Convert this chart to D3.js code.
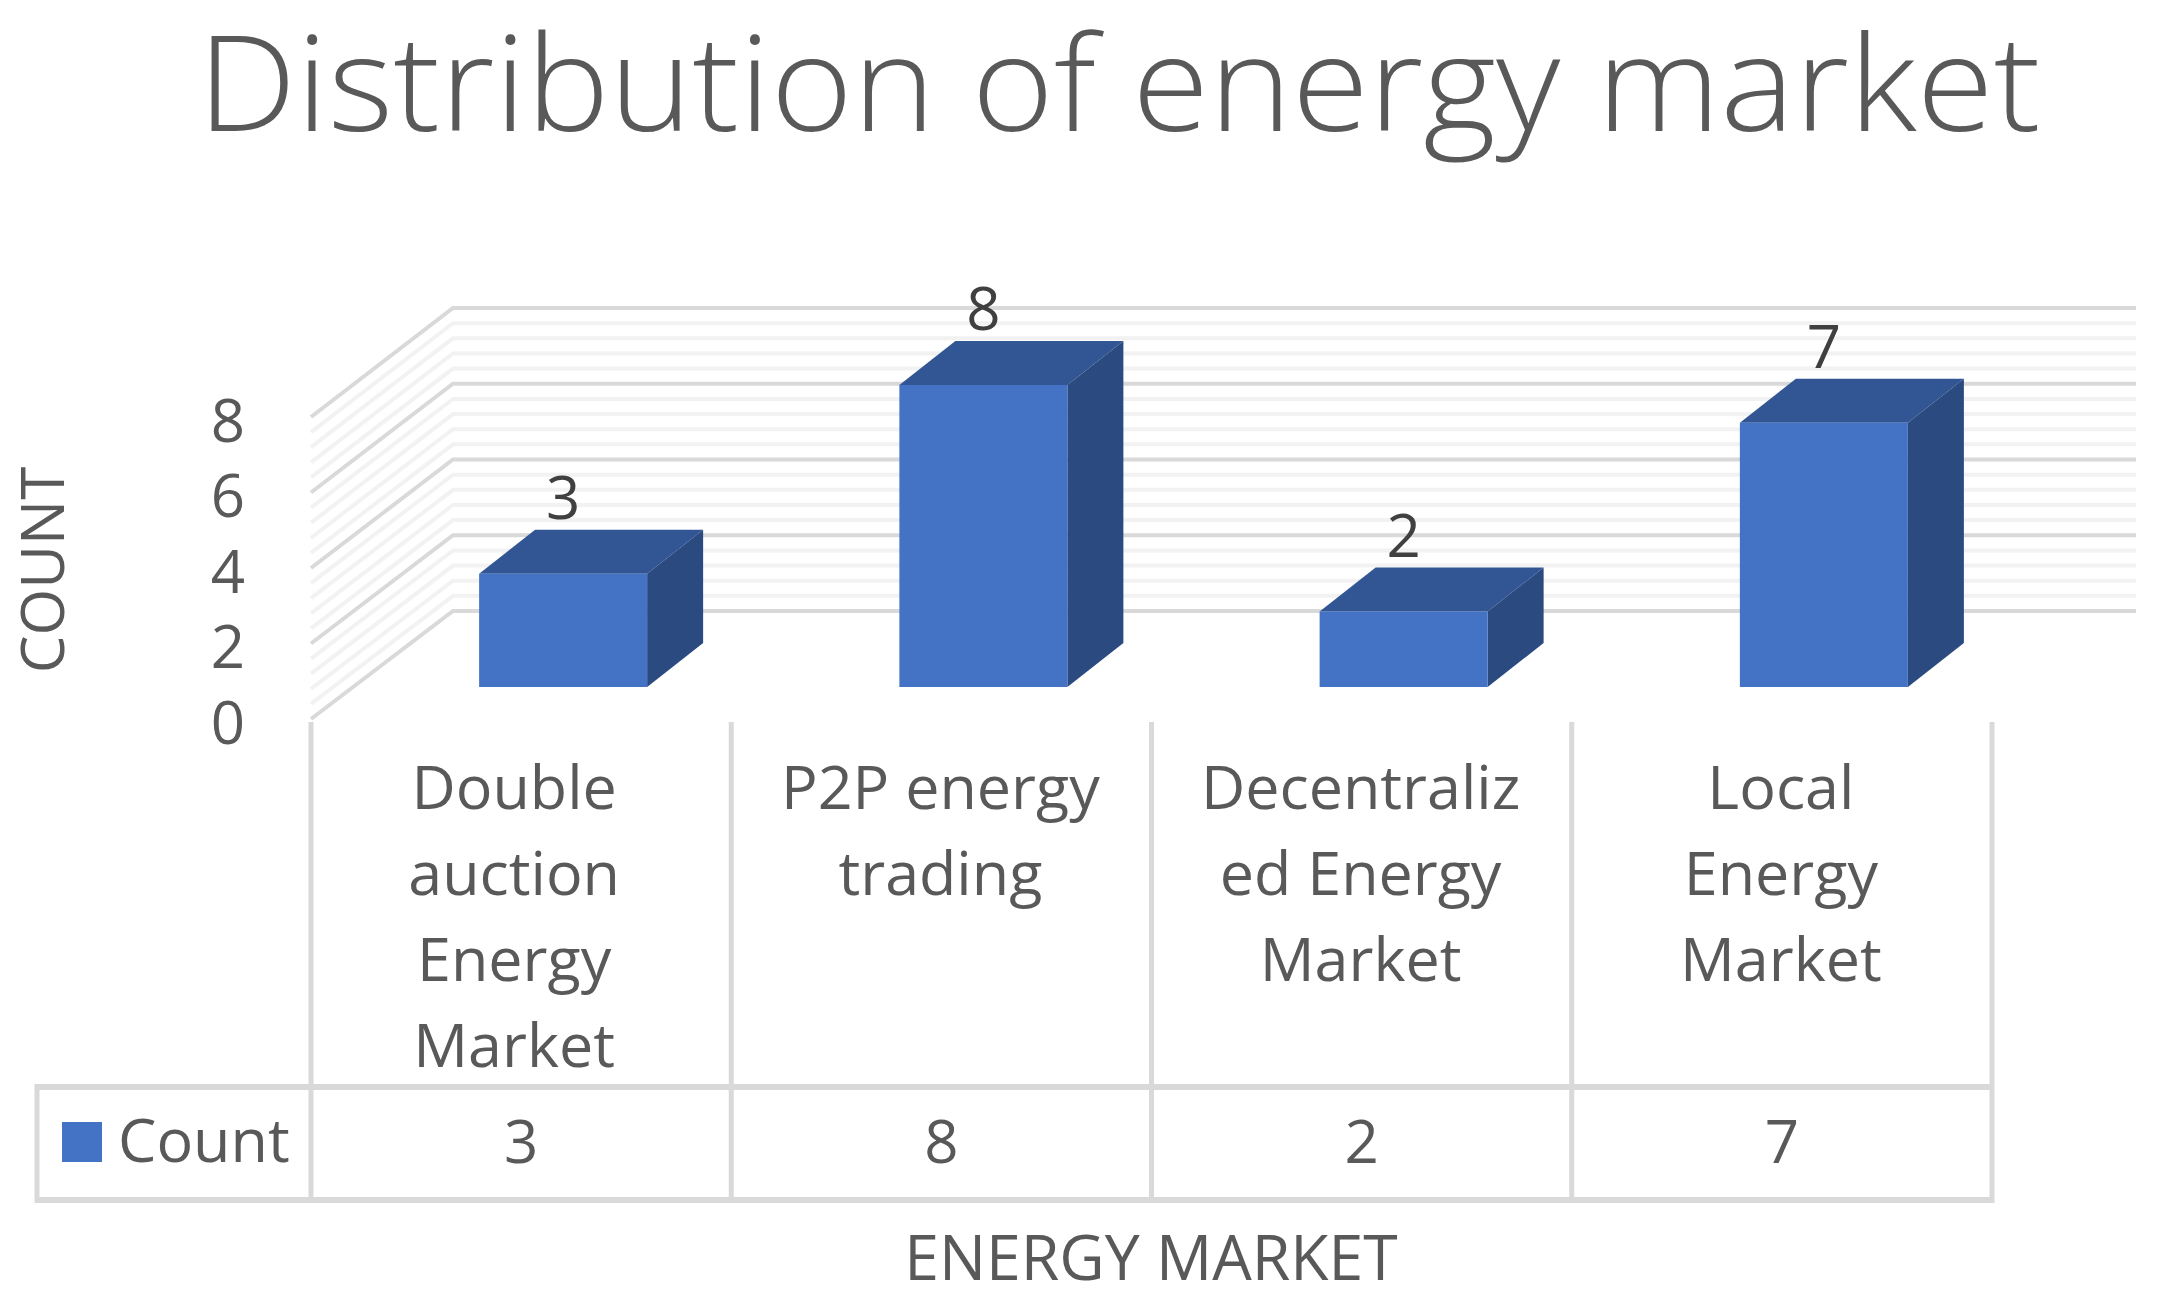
<!DOCTYPE html>
<html>
<head>
<meta charset="utf-8">
<script src="https://cdn.jsdelivr.net/npm/d3@7"></script>
<style>
  html, body { margin: 0; background: #fff; }
  text { font-family: "Open Sans", sans-serif; fill: #595959; }
</style>
</head>
<body>
<svg id="chart"></svg>
<script>
const width = 2163
const height = 1312

const title = 'Distribution of energy market'
const yTitle = 'COUNT'
const xTitle = 'ENERGY MARKET'
const seriesName = 'Count'
const categories = ['Double auction Energy Market', 'P2P energy trading', 'Decentralized Energy Market', 'Local Energy Market']
const categoryLines = [
  ['Double', 'auction', 'Energy', 'Market'],
  ['P2P energy', 'trading'],
  ['Decentraliz', 'ed Energy', 'Market'],
  ['Local', 'Energy', 'Market'],
]
const counts = [3, 8, 2, 7]
const yTicks = [0, 2, 4, 6, 8]
const gridValues = [0, 0.4, 0.8, 1.2, 1.6, 2, 2.4, 2.8, 3.2, 3.6, 4, 4.4, 4.8, 5.2, 5.6, 6, 6.4, 6.8, 7.2, 7.6, 8]

const svg = d3.select('#chart').attr('width', width).attr('height', height).style('display', 'block')

// the 3d box: front edge of the wall, back wall, and the plane the bars stand on
const yFront = d3.scaleLinear().domain([0, 8]).range([719, 417])
const yBack = d3.scaleLinear().domain([0, 8]).range([611, 308])
const yBar = d3.scaleLinear().domain([0, 8]).range([687, 385])
const x = d3.scaleBand().domain(categories).range([311, 1992])

const wallFrontX = 311
const wallBackX = 453
const wallRightX = 2136
const barWidth = 168
const barShift = 42
const depthX = 56
const depthY = 44

svg.append('text')
  .attr('x', 1119).attr('y', 131)
  .attr('text-anchor', 'middle')
  .attr('font-size', 132)
  .attr('font-weight', 300)
  .attr('textLength', 1843)
  .attr('lengthAdjust', 'spacingAndGlyphs')
  .text(title)

// wall gridlines, minor ones first so the major ones sit on top
svg.append('g').selectAll('path')
  .data(gridValues.slice().sort((a, b) => (yTicks.includes(a) ? 1 : 0) - (yTicks.includes(b) ? 1 : 0)))
  .enter()
  .append('path')
  .attr('fill', 'none')
  .attr('stroke', d => yTicks.includes(d) ? '#d9d9d9' : '#f2f2f2')
  .attr('stroke-width', 4)
  .attr('d', d => d3.line()([[wallFrontX, yFront(d)], [wallBackX, yBack(d)], [wallRightX, yBack(d)]]))

// bars: front, side and top face
const bars = svg.append('g').selectAll('g')
  .data(categories.map((c, i) => ({ c, v: counts[i] })))
  .enter()
  .append('g')
  .attr('transform', d => `translate(${x(d.c) + (x.bandwidth() - barWidth) / 2 + barShift}, 0)`)

bars.append('path')
  .attr('fill', '#325694')
  .attr('d', d => d3.line()([
    [0, yBar(d.v)], [depthX, yBar(d.v) - depthY],
    [barWidth + depthX, yBar(d.v) - depthY], [barWidth, yBar(d.v)],
  ]) + 'Z')

bars.append('path')
  .attr('fill', '#2a4a80')
  .attr('d', d => d3.line()([
    [barWidth, yBar(d.v)], [barWidth + depthX, yBar(d.v) - depthY],
    [barWidth + depthX, yBar(0) - depthY], [barWidth, yBar(0)],
  ]) + 'Z')

bars.append('rect')
  .attr('fill', '#4472c4')
  .attr('width', barWidth)
  .attr('y', d => yBar(d.v))
  .attr('height', d => yBar(0) - yBar(d.v))

bars.append('text')
  .attr('x', barWidth / 2)
  .attr('y', d => yBar(d.v) - depthY - 11)
  .attr('text-anchor', 'middle')
  .attr('font-size', 60)
  .style('fill', '#404040')
  .text(d => d.v)

// y axis labels
const yAxis = svg.append('g')
  .attr('transform', 'translate(250, 0)')
  .call(d3.axisLeft(yFront).tickValues(yTicks).tickSize(0).tickPadding(0))
yAxis.select('.domain').remove()
yAxis.selectAll('text')
  .attr('font-size', 60)
  .attr('text-anchor', 'middle')
  .attr('x', -22)
  .attr('dy', '0.4em')
yAxis.attr('font-family', null)

// data table
const table = svg.append('g').attr('stroke', '#d9d9d9').attr('fill', 'none')
const cellEdges = x.domain().map(d => x(d)).concat(x.range()[1])

table.selectAll('line.cell')
  .data(cellEdges)
  .enter()
  .append('line')
  .attr('class', 'cell')
  .attr('stroke-width', 5)
  .attr('x1', d => d).attr('x2', d => d)
  .attr('y1', 722).attr('y2', 1203)

table.selectAll('line.row')
  .data([1087, 1200])
  .enter()
  .append('line')
  .attr('class', 'row')
  .attr('stroke-width', 6)
  .attr('x1', 35).attr('x2', x.range()[1] + 2)
  .attr('y1', d => d).attr('y2', d => d)

table.append('line')
  .attr('stroke-width', 5)
  .attr('x1', 37).attr('x2', 37)
  .attr('y1', 1084).attr('y2', 1203)

const labels = svg.append('g').selectAll('text')
  .data(categories)
  .enter()
  .append('text')
  .attr('text-anchor', 'middle')
  .attr('font-size', 61)

// the first column sits a little left of its cell in the reference
labels.selectAll('tspan')
  .data((d, i) => categoryLines[i].map(line => ({ line, c: d, first: i === 0 })))
  .enter()
  .append('tspan')
  .attr('x', d => x(d.c) + x.bandwidth() / 2 + (d.first ? -7 : -1))
  .attr('y', (d, i) => 809 + i * 86)
  .text(d => d.line)

svg.append('g').selectAll('text')
  .data(categories.map((c, i) => ({ c, v: counts[i] })))
  .enter()
  .append('text')
  .attr('x', d => x(d.c) + x.bandwidth() / 2)
  .attr('y', 1163)
  .attr('text-anchor', 'middle')
  .attr('font-size', 60)
  .text(d => d.v)

svg.append('rect')
  .attr('x', 62).attr('y', 1122)
  .attr('width', 40).attr('height', 40)
  .attr('fill', '#4472c4')

svg.append('text')
  .attr('x', 118).attr('y', 1162)
  .attr('font-size', 61)
  .text(seriesName)

// axis titles
svg.append('text')
  .attr('transform', 'translate(64, 570) rotate(-90)')
  .attr('text-anchor', 'middle')
  .attr('font-size', 60)
  .text(yTitle)

svg.append('text')
  .attr('x', 1151).attr('y', 1280)
  .attr('text-anchor', 'middle')
  .attr('font-size', 62.5)
  .text(xTitle)
</script>
</body>
</html>
